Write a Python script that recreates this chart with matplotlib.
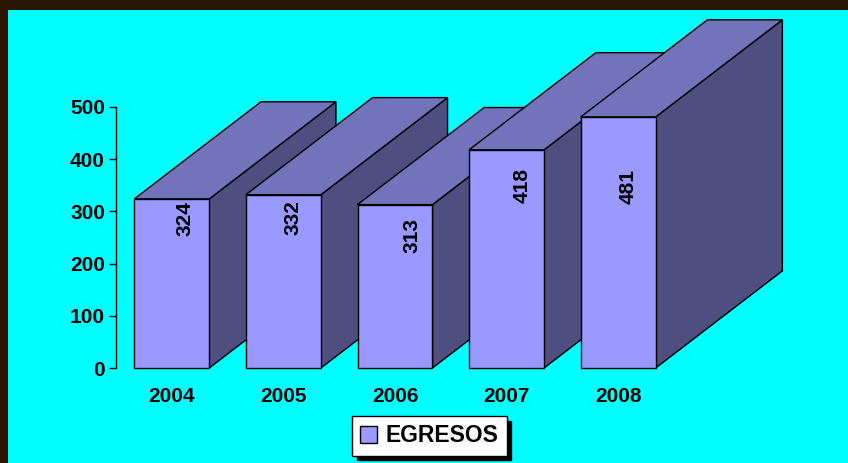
import matplotlib.pyplot as plt
from matplotlib.patches import Polygon, Patch, Rectangle
import numpy as np

plt.rcParams['font.family'] = ['Liberation Sans', 'DejaVu Sans']
plt.rcParams['font.weight'] = 'bold'

# Datos
years = ['2004', '2005', '2006', '2007', '2008']
egresos = [324, 332, 313, 418, 481]
y_ticks = [0, 100, 200, 300, 400, 500]

# Ajustes de posicion de las etiquetas (desplazamiento x en categorias, bajada desde el tope en valor)
label_dx = [0.12, 0.09, 0.15, 0.14, 0.09]
label_drop = [5, 11, 25, 34, 100]

# Colores
FRONT = '#9999FF'
TOP = '#7373BB'
SIDE = '#4E4E80'
BG = '#00FFFF'
FRAME = '#2A1500'

fig = plt.figure(figsize=(8.48, 4.63), dpi=100, facecolor=FRAME)
# panel cian
fig.patches.append(Rectangle((8 / 848, 0), 1, 1 - 10 / 463, transform=fig.transFigure,
                             facecolor=BG, edgecolor='none', zorder=-10))

ax = fig.add_axes([116 / 848, 95 / 463, 558 / 848, 261 / 463])
ax.set_zorder(1)
ax.set_facecolor('none')
ax.set_xlim(-0.5, 4.5)
ax.set_ylim(0, 500)

width = 0.672
dx = 1.135   # profundidad en unidades de categoria
dy = 186     # profundidad en unidades de valor

x = np.arange(len(years))
for i, (xi, v) in enumerate(zip(x, egresos)):
    x0, x1 = xi - width / 2, xi + width / 2
    side = [(x1, 0), (x1 + dx, dy), (x1 + dx, v + dy), (x1, v)]
    top = [(x0, v), (x1, v), (x1 + dx, v + dy), (x0 + dx, v + dy)]
    front = [(x0, 0), (x1, 0), (x1, v), (x0, v)]
    z = 2 + i * 3
    for pts, col, k in [(side, SIDE, 0), (top, TOP, 1), (front, FRONT, 2)]:
        ax.add_patch(Polygon(pts, closed=True, facecolor=col, edgecolor='black',
                             linewidth=1, clip_on=False, zorder=z + k))
    ax.text(xi + label_dx[i], v - label_drop[i], str(v), rotation=90, ha='center', va='top',
            fontsize=15, fontweight='bold', zorder=z + 2.5)

ax.set_yticks(y_ticks)
ax.set_xticks(x)
ax.set_xticklabels(years)
ax.tick_params(axis='y', direction='out', length=5, width=1, labelsize=15, pad=3)
ax.tick_params(axis='x', length=0, labelsize=15, pad=14)
for lbl in ax.get_xticklabels() + ax.get_yticklabels():
    lbl.set_fontweight('bold')
for s in ['top', 'right', 'bottom']:
    ax.spines[s].set_visible(False)
ax.spines['left'].set_linewidth(1)

handle = Patch(facecolor=FRONT, edgecolor='black', linewidth=1)
leg = fig.legend([handle], ['EGRESOS'], loc='center', bbox_to_anchor=(429.5 / 848, 27 / 463),
                 fancybox=False, edgecolor='black', framealpha=1, facecolor='white',
                 prop={'size': 16.5, 'weight': 'bold'}, handlelength=0.7, handleheight=0.7,
                 handletextpad=0.4, borderpad=0.35,
                 shadow={'color': 'black', 'alpha': 1, 'ox': 3, 'oy': -3})
leg.get_frame().set_linewidth(1)

fig.savefig('out.png', dpi=100, facecolor=FRAME)
